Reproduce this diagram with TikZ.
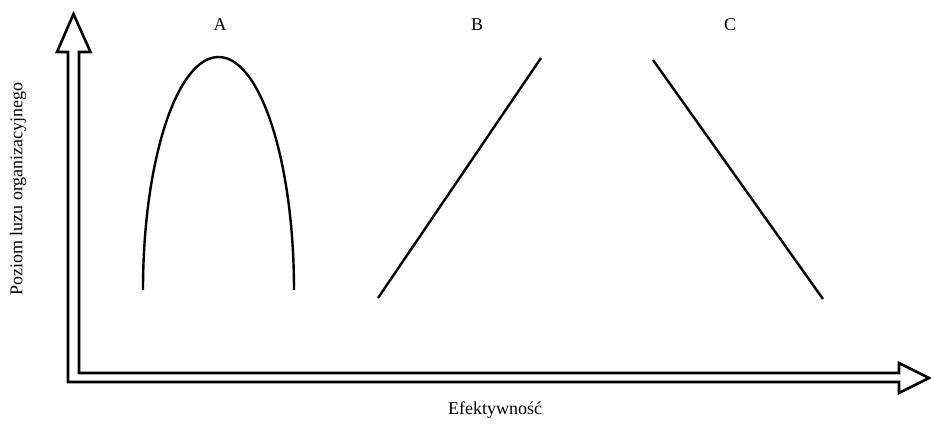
\documentclass[tikz,border=0pt]{standalone}
\usepackage{fontspec}
\setmainfont{Liberation Serif}
\begin{document}
\begin{tikzpicture}[x=1pt,y=-1pt,
  axisshape/.style={draw=black,line width=2.6pt,line join=miter,fill=white},
  curve/.style={draw=black,line width=2.4pt},
  lbl/.style={inner sep=0pt,font=\fontsize{18}{21}\selectfont}]
\useasboundingbox (0,0) rectangle (931,425);
% L-shaped block arrows (axes)
\draw[axisshape] (68,382) -- (68,52) -- (57,52) -- (73.5,14) -- (90.5,52) -- (79,52)
  -- (79,373) -- (899,373) -- (899,363) -- (929,378) -- (899,393) -- (899,382) -- cycle;
% Curve A: half ellipse
\draw[curve] (143,290) arc[start angle=180,end angle=0,x radius=75.5,y radius=-233];
% Line B
\draw[curve] (378,298) -- (541,58);
% Line C
\draw[curve] (653,60) -- (823,299);
% Labels
\node[lbl] (la) at (220,25) {A};
\node[lbl] (lb) at (477,25) {B};
\node[lbl] (lc) at (730,25) {C};
\node[lbl,rotate=90] (ly) at (18,189) {Poziom luzu organizacyjnego};
\node[lbl] (lx) at (495,410) {Efektywność};
\end{tikzpicture}
\end{document}
